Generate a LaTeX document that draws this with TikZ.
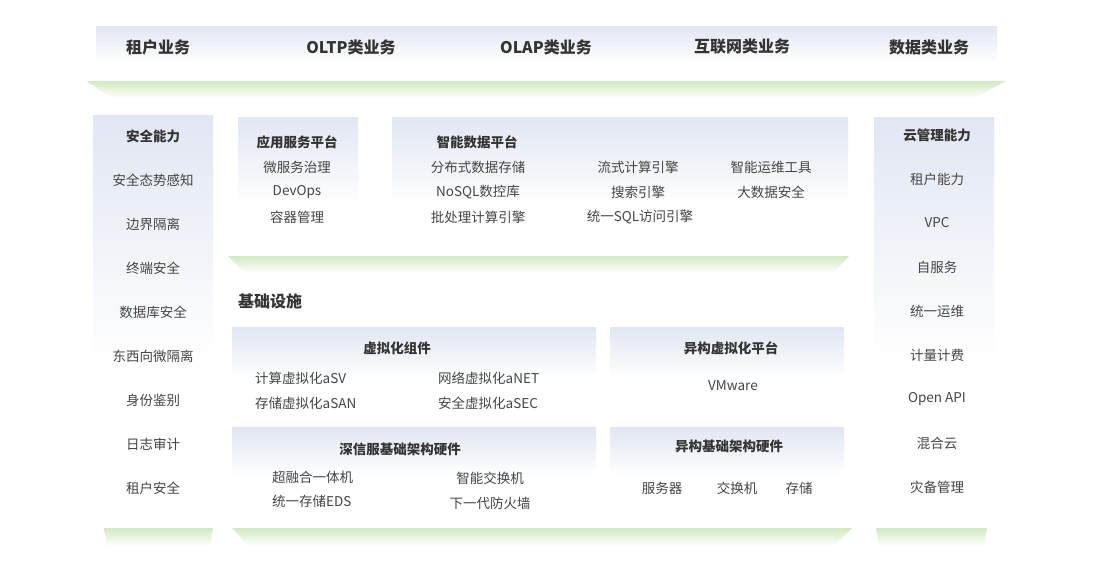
\documentclass[tikz,border=0pt]{standalone}
\usepackage{fontspec}
\setmainfont{Noto Sans CJK SC}
\definecolor{bluetop}{HTML}{E1E6F2}
\definecolor{greentop}{HTML}{D2EBC2}
\definecolor{itemc}{HTML}{454545}
\definecolor{titlec}{HTML}{343434}
\tikzset{
  panel/.style={top color=bluetop, bottom color=white, draw=none},
  ledge/.style={top color=greentop, bottom color=white, draw=none},
  hdr/.style={font=\fontsize{16}{16}\selectfont\bfseries, text=titlec, inner sep=0pt},
  ttl/.style={font=\fontsize{13.5}{14}\selectfont\bfseries, text=titlec, inner sep=0pt},
  itm/.style={font=\fontsize{13.5}{14}\selectfont, text=itemc, inner sep=0pt},
}
\begin{document}
\begin{tikzpicture}[x=1pt,y=-1pt]
\useasboundingbox[fill=white] (0,0) rectangle (1110,570);

% ---------- top band ----------
\path[panel] (96,26) rectangle (997,62);
\path[ledge] (86,81) -- (1006,81) -- (975,98) -- (112,98) -- cycle;
\node[hdr] (h1) at (158,47) {租户业务};
\node[hdr] (h2) at (351,47) {OLTP类业务};
\node[hdr] (h3) at (546,47) {OLAP类业务};
\node[hdr] (h4) at (742,47) {互联网类业务};
\node[hdr] (h5) at (929,47) {数据类业务};

% ---------- left column ----------
\path[panel] (93,115) rectangle (213,360);
\path[ledge] (104,528) -- (213,528) -- (210,546) -- (107,546) -- cycle;
\node[ttl] (s0) at (153,136) {安全能力};
\node[itm] (s1) at (153,180) {安全态势感知};
\node[itm] (s2) at (153,224) {边界隔离};
\node[itm] (s3) at (153,268) {终端安全};
\node[itm] (s4) at (153,312) {数据库安全};
\node[itm] (s5) at (153,356) {东西向微隔离};
\node[itm] (s6) at (153,400) {身份鉴别};
\node[itm] (s7) at (153,444) {日志审计};
\node[itm] (s8) at (153,488) {租户安全};

% ---------- right column ----------
\path[panel] (874,117) rectangle (994,360);
\path[ledge] (876,528) -- (987,528) -- (984,546) -- (879,546) -- cycle;
\node[ttl] (c0) at (937,135) {云管理能力};
\node[itm] (c1) at (937,179) {租户能力};
\node[itm] (c2) at (937,223) {VPC};
\node[itm] (c3) at (937,267) {自服务};
\node[itm] (c4) at (937,311) {统一运维};
\node[itm] (c5) at (937,355) {计量计费};
\node[itm] (c6) at (937,399) {Open API};
\node[itm] (c7) at (937,443) {混合云};
\node[itm] (c8) at (937,487) {灾备管理};

% ---------- upper middle ----------
\path[panel] (238,117) rectangle (358,205);
\path[panel] (392,117) rectangle (848,205);
\path[ledge] (228,256) -- (849,256) -- (833,273) -- (245,273) -- cycle;
\node[ttl] (a0) at (297,142) {应用服务平台};
\node[itm] (a1) at (297,167) {微服务治理};
\node[itm] (a2) at (297,192) {DevOps};
\node[itm] (a3) at (297,217) {容器管理};

\node[ttl] (d0) at (477,142) {智能数据平台};
\node[itm] (d1) at (478,167) {分布式数据存储};
\node[itm] (d2) at (478,192) {NoSQL数控库};
\node[itm] (d3) at (478,217) {批处理计算引擎};
\node[itm] (d4) at (638,167) {流式计算引擎};
\node[itm] (d5) at (638,192) {搜索引擎};
\node[itm] (d6) at (640,217) {统一SQL访问引擎};
\node[itm] (d7) at (771,167) {智能运维工具};
\node[itm] (d8) at (771,192) {大数据安全};

% ---------- infrastructure ----------
\node[hdr, anchor=west] (inf) at (238,301) {基础设施};

\path[panel] (232,327) rectangle (596,378);
\node[ttl] (v0) at (397,348) {虚拟化组件};
\node[itm, anchor=west] (v1) at (255,378) {计算虚拟化aSV};
\node[itm, anchor=west] (v2) at (255,403) {存储虚拟化aSAN};
\node[itm, anchor=west] (v3) at (438,378) {网络虚拟化aNET};
\node[itm, anchor=west] (v4) at (438,403) {安全虚拟化aSEC};

\path[panel] (610,327) rectangle (844,378);
\node[ttl] (y0) at (731,348) {异构虚拟化平台};
\node[itm] (y1) at (733,386) {VMware};

\path[panel] (232,427) rectangle (596,475);
\node[ttl] (w0) at (400,449) {深信服基础架构硬件};
\node[itm, anchor=west] (w1) at (272,477) {超融合一体机};
\node[itm, anchor=west] (w2) at (272,501) {统一存储EDS};
\node[itm] (w3) at (490,478) {智能交换机};
\node[itm] (w4) at (490,503) {下一代防火墙};

\path[panel] (610,427) rectangle (844,475);
\node[ttl] (z0) at (729,446) {异构基础架构硬件};
\node[itm] (z1) at (662,488) {服务器};
\node[itm] (z2) at (737,488) {交换机};
\node[itm] (z3) at (799,488) {存储};

\path[ledge] (232,528) -- (852,528) -- (834,546) -- (249,546) -- cycle;
\end{tikzpicture}
\end{document}
